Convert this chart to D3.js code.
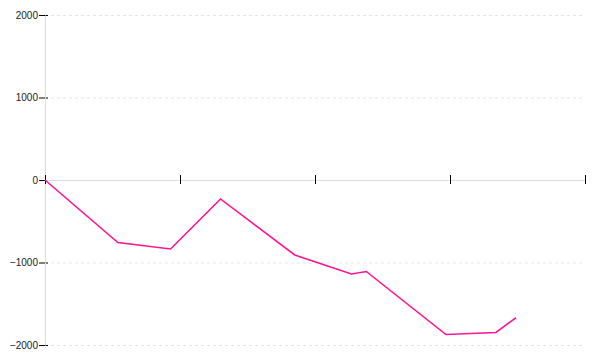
<!DOCTYPE html>
<html>
<head>
<meta charset="utf-8">
<script src="https://cdn.jsdelivr.net/npm/d3@7"></script>
<style>
  body { margin: 0; background: #fff; }
  svg { display: block; }
</style>
</head>
<body>
<div id="chart"></div>
<script>
// --- Data ---
const xValues = [0, 5.4, 9.3, 13.0, 18.5, 22.7, 23.8, 29.7, 33.4, 34.9];
const yValues = [0, -758, -836, -230, -909, -1139, -1109, -1873, -1848, -1667];
const xTicks = [0, 10, 20, 30, 40];
const yTicks = [-2000, -1000, 0, 1000, 2000];

const points = xValues.map((x, i) => ({ x: x, y: yValues[i] }));

const width = 600;
const height = 360;
const margin = { top: 15, right: 15, bottom: 15, left: 45 };
const innerW = width - margin.left - margin.right;
const innerH = height - margin.top - margin.bottom;

const svg = d3.select("#chart").append("svg")
  .attr("width", width)
  .attr("height", height);

const g = svg.append("g")
  .attr("transform", `translate(${margin.left},${margin.top})`);

// --- Scales ---
const x = d3.scaleLinear().domain([0, 40]).range([0, innerW]);
const y = d3.scaleLinear().domain([-2000, 2000]).range([innerH, 0]);

// --- Gridlines (gestrichelt, ohne 0) ---
g.append("g")
  .attr("class", "y-grid")
  .selectAll("line")
  .data(yTicks.filter(d => d !== 0))
  .join("line")
  .attr("x1", 0)
  .attr("x2", innerW)
  .attr("y1", d => y(d) + 0.5)
  .attr("y2", d => y(d) + 0.5)
  .attr("stroke", "#e6e6e6")
  .attr("stroke-dasharray", "3,3");

// --- Y axis ---
const yAxisG = g.append("g")
  .attr("class", "y-axis")
  .call(d3.axisLeft(y)
    .tickValues(yTicks)
    .tickFormat(d3.format("d"))
    .tickSizeInner(6)
    .tickSizeOuter(0));

yAxisG.selectAll(".tick line")
  .attr("x1", 3)
  .attr("x2", -6)
  .attr("stroke", "#000");
yAxisG.selectAll(".tick text")
  .attr("x", -7)
  .attr("fill", "#222")
  .attr("font-size", "10px")
  .attr("font-family", "Liberation Sans, Arial, sans-serif");
yAxisG.select(".domain")
  .attr("stroke", "#dcdcdc")
  .raise();

// --- X axis (bei y=0, Ticks kreuzen die Achse, keine Labels) ---
const xAxisG = g.append("g")
  .attr("class", "x-axis")
  .attr("transform", `translate(0,${y(0)})`)
  .call(d3.axisBottom(x).tickValues(xTicks).tickFormat("").tickSizeOuter(0));

xAxisG.select(".domain").attr("stroke", "#dcdcdc");
xAxisG.selectAll(".tick line")
  .attr("y1", -5)
  .attr("y2", 4)
  .attr("stroke", "#000");

// --- Line ---
const line = d3.line()
  .x(d => x(d.x))
  .y(d => y(d.y));

g.append("path")
  .datum(points)
  .attr("fill", "none")
  .attr("stroke", "#ff1493")
  .attr("stroke-width", 1.6)
  .attr("d", line);
</script>
</body>
</html>
